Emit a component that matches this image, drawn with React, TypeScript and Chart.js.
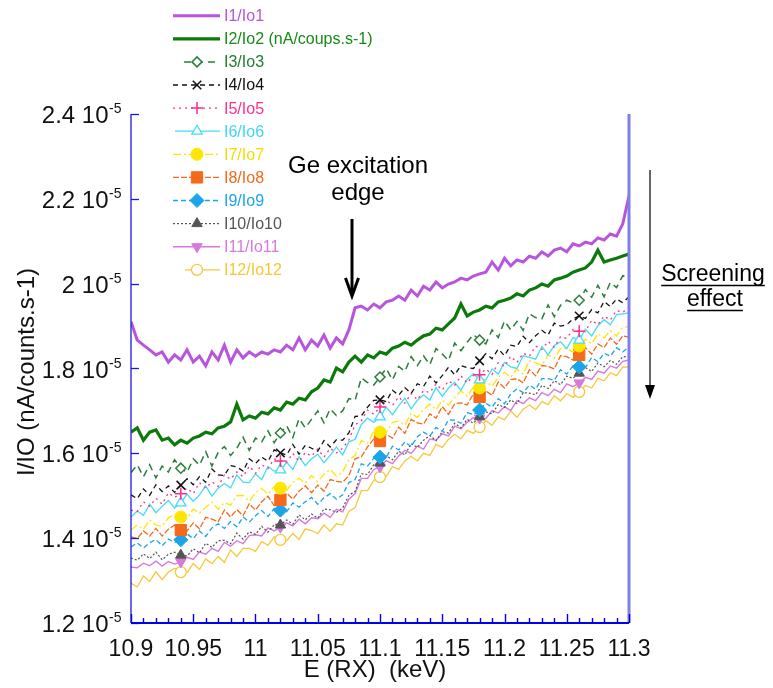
import React, { useEffect, useRef } from "react";
import { Chart, registerables } from "chart.js";
Chart.register(...registerables);

const FONT = '"Liberation Sans", Arial, Helvetica, sans-serif';

const ENERGY = [
  10.9, 10.905, 10.91, 10.915, 10.92, 10.925, 10.93, 10.935, 10.94, 10.945,
  10.95, 10.955, 10.96, 10.965, 10.97, 10.975, 10.98, 10.985, 10.99, 10.995,
  11.0, 11.005, 11.01, 11.015, 11.02, 11.025, 11.03, 11.035, 11.04, 11.045,
  11.05, 11.055, 11.06, 11.065, 11.07, 11.075, 11.08, 11.085, 11.09, 11.095,
  11.1, 11.105, 11.11, 11.115, 11.12, 11.125, 11.13, 11.135, 11.14, 11.145,
  11.15, 11.155, 11.16, 11.165, 11.17, 11.175, 11.18, 11.185, 11.19, 11.195,
  11.2, 11.205, 11.21, 11.215, 11.22, 11.225, 11.23, 11.235, 11.24, 11.245,
  11.25, 11.255, 11.26, 11.265, 11.27, 11.275, 11.28, 11.285, 11.29, 11.295, 11.3,
];

const I1 = [
  1.910, 1.867, 1.855, 1.844, 1.832, 1.839, 1.815, 1.832, 1.820, 1.844,
  1.815, 1.829, 1.806, 1.839, 1.820, 1.855, 1.815, 1.844, 1.825, 1.839,
  1.829, 1.839, 1.834, 1.844, 1.839, 1.855, 1.844, 1.872, 1.844, 1.867,
  1.853, 1.879, 1.848, 1.872, 1.858, 1.891, 1.943, 1.947, 1.938, 1.952,
  1.943, 1.957, 1.961, 1.971, 1.961, 1.985, 1.971, 1.994, 1.985, 2.004,
  1.990, 1.999, 2.004, 2.013, 2.009, 2.018, 2.023, 2.027, 2.051, 2.032,
  2.060, 2.042, 2.056, 2.051, 2.065, 2.060, 2.075, 2.065, 2.079, 2.084,
  2.075, 2.094, 2.089, 2.098, 2.094, 2.108, 2.103, 2.117, 2.112, 2.141, 2.207,
];
const I2 = [
  1.650, 1.660, 1.631, 1.650, 1.655, 1.631, 1.636, 1.620, 1.631, 1.624,
  1.636, 1.641, 1.650, 1.646, 1.660, 1.664, 1.674, 1.716, 1.679, 1.688,
  1.683, 1.697, 1.693, 1.707, 1.702, 1.721, 1.716, 1.730, 1.726, 1.745,
  1.754, 1.773, 1.768, 1.801, 1.792, 1.815, 1.829, 1.815, 1.832, 1.825,
  1.839, 1.834, 1.848, 1.853, 1.862, 1.855, 1.867, 1.877, 1.881, 1.895,
  1.891, 1.905, 1.919, 1.952, 1.924, 1.933, 1.938, 1.947, 1.943, 1.957,
  1.961, 1.966, 1.976, 1.971, 1.985, 1.990, 1.999, 1.994, 2.009, 2.013,
  2.018, 2.027, 2.032, 2.037, 2.051, 2.079, 2.051, 2.056, 2.060, 2.065, 2.070,
];
const I3 = [
  1.554, 1.573, 1.545, 1.573, 1.542, 1.570, 1.556, 1.585, 1.565, 1.555,
  1.587, 1.572, 1.604, 1.570, 1.602, 1.616, 1.595, 1.612, 1.638, 1.607,
  1.636, 1.627, 1.653, 1.625, 1.648, 1.665, 1.637, 1.682, 1.660, 1.680,
  1.700, 1.672, 1.705, 1.689, 1.700, 1.729, 1.725, 1.778, 1.767, 1.761,
  1.780, 1.800, 1.773, 1.805, 1.793, 1.828, 1.807, 1.830, 1.809, 1.847,
  1.834, 1.819, 1.860, 1.842, 1.862, 1.880, 1.867, 1.858, 1.891, 1.873,
  1.912, 1.891, 1.911, 1.890, 1.929, 1.920, 1.917, 1.950, 1.922, 1.949,
  1.961, 1.955, 1.961, 1.986, 1.968, 1.996, 1.969, 2.003, 1.991, 2.019, 2.013,
];
const I4 = [
  1.502, 1.493, 1.516, 1.501, 1.526, 1.510, 1.523, 1.508, 1.525, 1.540,
  1.526, 1.545, 1.532, 1.563, 1.549, 1.548, 1.571, 1.568, 1.558, 1.587,
  1.576, 1.591, 1.581, 1.608, 1.601, 1.596, 1.621, 1.598, 1.619, 1.612,
  1.605, 1.630, 1.615, 1.632, 1.631, 1.648, 1.687, 1.688, 1.709, 1.725,
  1.726, 1.722, 1.749, 1.737, 1.755, 1.741, 1.764, 1.758, 1.782, 1.766,
  1.783, 1.803, 1.785, 1.807, 1.802, 1.800, 1.818, 1.835, 1.823, 1.846,
  1.830, 1.855, 1.852, 1.876, 1.861, 1.877, 1.890, 1.879, 1.907, 1.900,
  1.903, 1.917, 1.924, 1.918, 1.939, 1.931, 1.958, 1.946, 1.964, 1.955, 1.969,
];
const I5 = [
  1.466, 1.463, 1.486, 1.475, 1.494, 1.480, 1.507, 1.496, 1.505, 1.518,
  1.505, 1.531, 1.518, 1.533, 1.522, 1.549, 1.539, 1.556, 1.545, 1.570,
  1.553, 1.573, 1.564, 1.587, 1.582, 1.579, 1.600, 1.581, 1.602, 1.593,
  1.610, 1.591, 1.612, 1.601, 1.612, 1.632, 1.667, 1.677, 1.702, 1.692,
  1.709, 1.726, 1.713, 1.733, 1.718, 1.741, 1.726, 1.748, 1.743, 1.764,
  1.749, 1.771, 1.760, 1.783, 1.766, 1.784, 1.785, 1.799, 1.786, 1.814,
  1.805, 1.829, 1.814, 1.836, 1.829, 1.853, 1.845, 1.864, 1.850, 1.875,
  1.871, 1.892, 1.888, 1.887, 1.914, 1.903, 1.924, 1.914, 1.937, 1.932, 1.945,
];
const I6 = [
  1.450, 1.464, 1.454, 1.480, 1.460, 1.475, 1.489, 1.471, 1.483, 1.504,
  1.487, 1.502, 1.523, 1.499, 1.518, 1.529, 1.518, 1.549, 1.532, 1.531,
  1.552, 1.538, 1.569, 1.558, 1.561, 1.579, 1.562, 1.592, 1.571, 1.587,
  1.598, 1.578, 1.595, 1.615, 1.596, 1.627, 1.633, 1.668, 1.683, 1.673,
  1.686, 1.709, 1.691, 1.712, 1.730, 1.705, 1.725, 1.738, 1.726, 1.755,
  1.734, 1.754, 1.767, 1.749, 1.774, 1.788, 1.773, 1.773, 1.799, 1.787,
  1.815, 1.804, 1.800, 1.830, 1.826, 1.822, 1.852, 1.832, 1.854, 1.863,
  1.847, 1.873, 1.867, 1.893, 1.877, 1.901, 1.915, 1.903, 1.927, 1.929, 1.931,
];
const I7 = [
  1.419, 1.431, 1.421, 1.443, 1.431, 1.428, 1.448, 1.456, 1.450, 1.446,
  1.469, 1.459, 1.473, 1.485, 1.468, 1.484, 1.478, 1.500, 1.501, 1.487,
  1.507, 1.517, 1.504, 1.522, 1.518, 1.512, 1.532, 1.541, 1.529, 1.547,
  1.533, 1.551, 1.562, 1.546, 1.556, 1.585, 1.595, 1.630, 1.624, 1.652,
  1.650, 1.649, 1.673, 1.676, 1.666, 1.695, 1.685, 1.704, 1.716, 1.703,
  1.725, 1.714, 1.732, 1.747, 1.735, 1.756, 1.754, 1.770, 1.758, 1.779,
  1.791, 1.779, 1.799, 1.787, 1.818, 1.814, 1.808, 1.832, 1.824, 1.847,
  1.847, 1.839, 1.853, 1.869, 1.858, 1.882, 1.872, 1.889, 1.877, 1.898, 1.898,
];
const I8 = [
  1.403, 1.399, 1.417, 1.405, 1.423, 1.405, 1.421, 1.431, 1.419, 1.417,
  1.436, 1.422, 1.449, 1.445, 1.439, 1.466, 1.450, 1.467, 1.453, 1.481,
  1.466, 1.486, 1.499, 1.477, 1.490, 1.506, 1.492, 1.511, 1.523, 1.507,
  1.525, 1.511, 1.538, 1.534, 1.532, 1.547, 1.587, 1.592, 1.615, 1.634,
  1.629, 1.645, 1.636, 1.662, 1.647, 1.680, 1.672, 1.669, 1.693, 1.683,
  1.710, 1.692, 1.717, 1.719, 1.714, 1.740, 1.733, 1.747, 1.737, 1.768,
  1.754, 1.774, 1.776, 1.766, 1.797, 1.783, 1.807, 1.805, 1.799, 1.830,
  1.828, 1.820, 1.832, 1.849, 1.834, 1.858, 1.849, 1.872, 1.857, 1.877, 1.874,
];
const I9 = [
  1.379, 1.389, 1.377, 1.389, 1.397, 1.382, 1.398, 1.390, 1.396, 1.410,
  1.399, 1.417, 1.404, 1.424, 1.434, 1.423, 1.439, 1.427, 1.450, 1.438,
  1.453, 1.465, 1.451, 1.470, 1.466, 1.462, 1.483, 1.473, 1.486, 1.496,
  1.480, 1.495, 1.505, 1.492, 1.502, 1.531, 1.538, 1.575, 1.570, 1.588,
  1.591, 1.590, 1.617, 1.608, 1.627, 1.616, 1.639, 1.650, 1.641, 1.661,
  1.652, 1.679, 1.678, 1.671, 1.696, 1.691, 1.702, 1.718, 1.709, 1.729,
  1.717, 1.740, 1.752, 1.743, 1.761, 1.751, 1.776, 1.776, 1.772, 1.797,
  1.787, 1.806, 1.804, 1.802, 1.826, 1.816, 1.836, 1.829, 1.849, 1.839, 1.851,
];
const I10 = [
  1.353, 1.348, 1.363, 1.352, 1.367, 1.349, 1.362, 1.367, 1.360, 1.358,
  1.375, 1.365, 1.388, 1.378, 1.394, 1.395, 1.387, 1.412, 1.398, 1.415,
  1.409, 1.428, 1.414, 1.432, 1.431, 1.443, 1.433, 1.455, 1.443, 1.457,
  1.447, 1.469, 1.467, 1.461, 1.471, 1.501, 1.510, 1.552, 1.550, 1.573,
  1.577, 1.594, 1.585, 1.605, 1.596, 1.623, 1.614, 1.631, 1.642, 1.630,
  1.651, 1.648, 1.671, 1.660, 1.680, 1.671, 1.686, 1.698, 1.693, 1.715,
  1.708, 1.726, 1.717, 1.743, 1.742, 1.738, 1.760, 1.753, 1.771, 1.762,
  1.782, 1.777, 1.789, 1.802, 1.793, 1.813, 1.804, 1.819, 1.810, 1.828, 1.827,
];
const I11 = [
  1.332, 1.330, 1.341, 1.335, 1.346, 1.334, 1.345, 1.339, 1.344, 1.355,
  1.350, 1.367, 1.362, 1.376, 1.369, 1.390, 1.381, 1.394, 1.387, 1.406,
  1.408, 1.405, 1.424, 1.417, 1.426, 1.436, 1.429, 1.445, 1.434, 1.448,
  1.446, 1.459, 1.449, 1.468, 1.462, 1.492, 1.505, 1.541, 1.541, 1.562,
  1.568, 1.583, 1.576, 1.594, 1.607, 1.600, 1.617, 1.610, 1.634, 1.631,
  1.646, 1.641, 1.664, 1.658, 1.673, 1.684, 1.683, 1.682, 1.701, 1.695,
  1.710, 1.701, 1.724, 1.717, 1.731, 1.724, 1.743, 1.736, 1.751, 1.743,
  1.764, 1.757, 1.766, 1.779, 1.774, 1.794, 1.789, 1.806, 1.801, 1.817, 1.820,
];
const I12 = [
  1.294, 1.285, 1.311, 1.298, 1.321, 1.302, 1.320, 1.329, 1.320, 1.319,
  1.340, 1.326, 1.351, 1.340, 1.357, 1.343, 1.372, 1.357, 1.376, 1.376,
  1.369, 1.392, 1.383, 1.403, 1.396, 1.394, 1.411, 1.397, 1.422, 1.418,
  1.411, 1.431, 1.416, 1.434, 1.431, 1.463, 1.472, 1.512, 1.512, 1.536,
  1.544, 1.545, 1.569, 1.562, 1.582, 1.593, 1.582, 1.600, 1.595, 1.621,
  1.614, 1.633, 1.645, 1.634, 1.654, 1.647, 1.662, 1.677, 1.666, 1.686,
  1.679, 1.700, 1.685, 1.704, 1.714, 1.703, 1.722, 1.715, 1.736, 1.724,
  1.741, 1.732, 1.745, 1.760, 1.754, 1.777, 1.771, 1.790, 1.783, 1.803, 1.804,
];

const LABELS = [
  "I1/Io1", "I2/Io2 (nA/coups.s-1)", "I3/Io3", "I4/Io4", "I5/Io5", "I6/Io6",
  "I7/Io7", "I8/Io8", "I9/Io9", "I10/Io10", "I11/Io11", "I12/Io12",
];

const MARKER_ENERGIES = [10.94, 11.02, 11.1, 11.18, 11.26];

const X_TICKS = [10.9, 10.95, 11, 11.05, 11.1, 11.15, 11.2, 11.25, 11.3];
const X_TICK_LABELS = ["10.9", "10.95", "11", "11.05", "11.1", "11.15", "11.2", "11.25", "11.3"];
const Y_TICKS = [1.2, 1.4, 1.6, 1.8, 2.0, 2.2, 2.4];
const Y_TICK_LABELS = ["1.2 10", "1.4 10", "1.6 10", "1.8 10", "2 10", "2.2 10", "2.4 10"];
const Y_EXPONENT = "-5";

const X_TITLE = "E (RX)  (keV)";
const Y_TITLE = "I/IO (nA/counts.s-1)";
const EDGE_TEXT = ["Ge excitation", "edge"];
const SCREEN_TEXT = ["Screening", "effect"];

type Sty = {
  color: string; text: string; width: number; dash: number[];
  point?: string; radius?: number; fill?: string; pbw?: number; rot?: number; sx?: number;
};

const STYLES: Sty[] = [
  { color: "#b855dc", text: "#b855dc", width: 3, dash: [] },
  { color: "#0b7a0b", text: "#168a16", width: 3.2, dash: [] },
  { color: "#2c7d3c", text: "#237a30", width: 1.5, dash: [7, 5], point: "rectRot", radius: 5, fill: "#ffffff", pbw: 1.5, sx: 184 },
  { color: "#111111", text: "#111111", width: 1.3, dash: [5, 4], point: "crossRot", radius: 6, fill: "#111111", pbw: 1.5 },
  { color: "#ff2e8c", text: "#ff2e8c", width: 1.3, dash: [2, 4], point: "cross", radius: 6, fill: "#ff2e8c", pbw: 1.5 },
  { color: "#44dcfa", text: "#3fd6f3", width: 1.3, dash: [], point: "triangle", radius: 6, fill: "#ffffff", pbw: 1.3, sx: 175 },
  { color: "#ffe600", text: "#f5dc00", width: 1.3, dash: [8, 3, 2, 3], point: "circle", radius: 6, fill: "#ffe600", pbw: 1 },
  { color: "#f46a1a", text: "#f06a1c", width: 1.3, dash: [6, 2], point: "rect", radius: 8, fill: "#f46a1a", pbw: 1 },
  { color: "#1aa5ea", text: "#1aa5ea", width: 1.3, dash: [5, 3], point: "rectRot", radius: 7, fill: "#1aa5ea", pbw: 1 },
  { color: "#555555", text: "#555555", width: 1.2, dash: [2, 2], point: "triangle", radius: 6, fill: "#555555", pbw: 1 },
  { color: "#d878dc", text: "#d878dc", width: 1.4, dash: [], point: "triangle", radius: 6, fill: "#d878dc", pbw: 1, rot: 180 },
  { color: "#f7c83c", text: "#f5c830", width: 1.3, dash: [], point: "circle", radius: 5.5, fill: "#ffffff", pbw: 1.3, sx: 185 },
];

function drawMarker(ctx: CanvasRenderingContext2D, st: Sty, x: number, y: number) {
  const r = st.radius || 5;
  ctx.save();
  ctx.translate(x, y);
  ctx.rotate(((st.rot || 0) * Math.PI) / 180);
  ctx.beginPath();
  let fillable = true;
  switch (st.point) {
    case "circle": ctx.arc(0, 0, r, 0, Math.PI * 2); break;
    case "rect": { const s = r * Math.SQRT1_2; ctx.rect(-s, -s, 2 * s, 2 * s); break; }
    case "rectRot": ctx.moveTo(0, -r); ctx.lineTo(r, 0); ctx.lineTo(0, r); ctx.lineTo(-r, 0); ctx.closePath(); break;
    case "triangle": ctx.moveTo(0, -r); ctx.lineTo(r * 0.866, r * 0.5); ctx.lineTo(-r * 0.866, r * 0.5); ctx.closePath(); break;
    case "cross": fillable = false; ctx.moveTo(0, -r); ctx.lineTo(0, r); ctx.moveTo(-r, 0); ctx.lineTo(r, 0); break;
    case "crossRot": { fillable = false; const s = r * Math.SQRT1_2; ctx.moveTo(-s, -s); ctx.lineTo(s, s); ctx.moveTo(s, -s); ctx.lineTo(-s, s); break; }
  }
  if (fillable) { ctx.fillStyle = st.fill || st.color; ctx.fill(); }
  ctx.setLineDash([]);
  ctx.lineWidth = st.pbw || 1;
  ctx.strokeStyle = st.color;
  ctx.stroke();
  ctx.restore();
}

const decorPlugin = {
  id: "decor",
  afterDraw(chart: any) {
    const ctx: CanvasRenderingContext2D = chart.ctx;
    const xs = chart.scales.x;
    const ys = chart.scales.y;
    const a = chart.chartArea;
    ctx.save();

    // right border
    ctx.strokeStyle = "#7f7fe8";
    ctx.lineWidth = 3;
    ctx.beginPath(); ctx.moveTo(a.right, a.top); ctx.lineTo(a.right, a.bottom); ctx.stroke();

    // left axis
    ctx.strokeStyle = "#1a1ae0";
    ctx.lineWidth = 1.3;
    ctx.beginPath(); ctx.moveTo(a.left, a.top); ctx.lineTo(a.left, a.bottom); ctx.stroke();
    Y_TICKS.forEach((v) => {
      const y = Math.round(ys.getPixelForValue(v)) + 0.5;
      ctx.beginPath(); ctx.moveTo(a.left, y); ctx.lineTo(a.left + 8, y); ctx.stroke();
    });

    // bottom axis
    ctx.strokeStyle = "#0000ee";
    ctx.lineWidth = 2;
    ctx.beginPath(); ctx.moveTo(a.left, a.bottom); ctx.lineTo(a.right, a.bottom); ctx.stroke();
    ctx.lineWidth = 1.4;
    for (let k = 0; k <= 40; k++) {
      const v = 10.9 + k * 0.01;
      const x = Math.round(xs.getPixelForValue(v)) + 0.5;
      const len = k % 5 === 0 ? 9 : 5;
      ctx.beginPath(); ctx.moveTo(x, a.bottom); ctx.lineTo(x, a.bottom - len); ctx.stroke();
    }

    // x tick labels
    ctx.fillStyle = "#111111";
    ctx.font = `23px ${FONT}`;
    ctx.textAlign = "center";
    ctx.textBaseline = "alphabetic";
    X_TICKS.forEach((v, i) => {
      ctx.fillText(X_TICK_LABELS[i], xs.getPixelForValue(v), 656);
    });

    // y tick labels with exponent
    Y_TICKS.forEach((v, i) => {
      const y = ys.getPixelForValue(v);
      ctx.font = `14px ${FONT}`;
      const ew = ctx.measureText(Y_EXPONENT).width;
      ctx.font = `24px ${FONT}`;
      const mw = ctx.measureText(Y_TICK_LABELS[i]).width;
      const x0 = 121 - ew - mw;
      ctx.textAlign = "left";
      ctx.fillText(Y_TICK_LABELS[i], x0, y + 9);
      ctx.font = `14px ${FONT}`;
      ctx.fillText(Y_EXPONENT, x0 + mw + 0.5, y - 1);
    });

    // axis titles
    ctx.font = `24px ${FONT}`;
    ctx.textAlign = "center";
    ctx.fillText(X_TITLE, 375, 677);
    ctx.save();
    ctx.translate(34, 372);
    ctx.rotate(-Math.PI / 2);
    ctx.fillText(Y_TITLE, 0, 0);
    ctx.restore();

    // Ge excitation edge annotation
    ctx.fillStyle = "#000000";
    ctx.font = `24px ${FONT}`;
    ctx.fillText(EDGE_TEXT[0], 358, 173);
    ctx.fillText(EDGE_TEXT[1], 358, 200);
    ctx.strokeStyle = "#000000";
    ctx.lineWidth = 3;
    ctx.beginPath(); ctx.moveTo(352, 219); ctx.lineTo(352, 294); ctx.stroke();
    ctx.lineJoin = "miter";
    ctx.beginPath(); ctx.moveTo(345.5, 278); ctx.lineTo(352, 296); ctx.lineTo(358.5, 278); ctx.stroke();

    // Screening effect annotation
    ctx.strokeStyle = "#333333";
    ctx.lineWidth = 1.5;
    ctx.beginPath(); ctx.moveTo(650, 170); ctx.lineTo(650, 386); ctx.stroke();
    ctx.fillStyle = "#000000";
    ctx.beginPath(); ctx.moveTo(645, 385); ctx.lineTo(655, 385); ctx.lineTo(650, 399); ctx.closePath(); ctx.fill();
    ctx.font = `23px ${FONT}`;
    ctx.textAlign = "center";
    ctx.fillText(SCREEN_TEXT[0], 713, 281);
    ctx.fillText(SCREEN_TEXT[1], 715, 306);
    const w0 = ctx.measureText(SCREEN_TEXT[0]).width;
    const w1 = ctx.measureText(SCREEN_TEXT[1]).width;
    ctx.strokeStyle = "#000000";
    ctx.lineWidth = 1.3;
    ctx.beginPath(); ctx.moveTo(713 - w0 / 2, 285.5); ctx.lineTo(713 + w0 / 2, 285.5); ctx.stroke();
    ctx.beginPath(); ctx.moveTo(715 - w1 / 2, 310.5); ctx.lineTo(715 + w1 / 2, 310.5); ctx.stroke();

    // legend
    ctx.font = `16px ${FONT}`;
    ctx.textAlign = "left";
    ctx.textBaseline = "middle";
    STYLES.forEach((st, i) => {
      const y = 15.7 + i * 23.1;
      ctx.save();
      ctx.strokeStyle = st.color;
      ctx.lineWidth = st.width;
      ctx.setLineDash(st.dash);
      ctx.beginPath(); ctx.moveTo(st.sx || 173, y); ctx.lineTo(220, y); ctx.stroke();
      ctx.restore();
      if (st.point) drawMarker(ctx, st, 197, y);
      ctx.fillStyle = st.text;
      ctx.fillText(LABELS[i], 224, y + 1);
    });

    ctx.restore();
  },
};

export default function App() {
  const ref = useRef<HTMLCanvasElement>(null);
  useEffect(() => {
    const canvas = ref.current;
    if (!canvas) return;
    const SERIES = [I1, I2, I3, I4, I5, I6, I7, I8, I9, I10, I11, I12];
    const datasets = SERIES.map((vals, k) => {
      const st = STYLES[k];
      return {
        label: LABELS[k],
        data: vals.map((v, i) => ({ x: ENERGY[i], y: v })),
        borderColor: st.color,
        borderWidth: st.width,
        borderDash: st.dash,
        pointStyle: st.point || "circle",
        pointRadius: (c: any) =>
          st.point && c.raw && MARKER_ENERGIES.some((m) => Math.abs(c.raw.x - m) < 1e-6) ? st.radius : 0,
        pointHoverRadius: 0,
        pointBackgroundColor: st.fill || st.color,
        pointBorderColor: st.color,
        pointBorderWidth: st.pbw || 1,
        pointRotation: st.rot || 0,
        fill: false,
        tension: 0,
      };
    });
    const chart = new Chart(canvas, {
      type: "line",
      data: { datasets } as any,
      options: {
        animation: false,
        responsive: false,
        maintainAspectRatio: false,
        layout: { padding: { top: 114, right: 144, left: 0, bottom: 0 } },
        plugins: { legend: { display: false }, tooltip: { enabled: false } },
        events: [],
        scales: {
          x: {
            type: "linear", min: 10.9, max: 11.3,
            grid: { display: false }, border: { display: false }, ticks: { display: false },
            afterFit: (s: any) => { s.height = 65; },
          },
          y: {
            type: "linear", min: 1.2, max: 2.4,
            grid: { display: false }, border: { display: false }, ticks: { display: false },
            afterFit: (s: any) => { s.width = 131; },
          },
        },
      } as any,
      plugins: [decorPlugin],
    });
    return () => chart.destroy();
  }, []);
  return (
    <div style={{ position: "absolute", left: 0, top: 0, width: 773, height: 688, background: "#ffffff" }}>
      <canvas ref={ref} width={773} height={688} />
    </div>
  );
}
